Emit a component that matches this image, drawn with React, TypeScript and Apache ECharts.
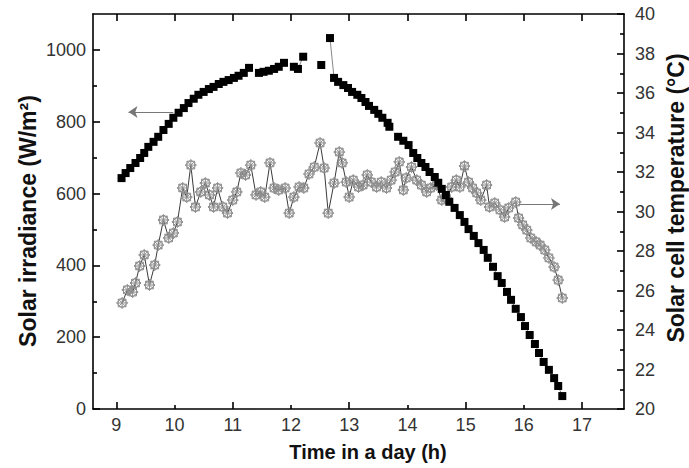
import React, { useEffect, useRef } from "react";
import * as echarts from "echarts";

// Axis tick values
const xTickLabels = [9, 10, 11, 12, 13, 14, 15, 16, 17];
const xMajorBottomTicks = [9, 11, 13, 15, 17];
const xMinorBottomTicks = [10, 12, 14, 16];
const yLeftLabels = [0, 200, 400, 600, 800, 1000];
const yLeftMinor = [100, 300, 500, 700, 900];
const yRightLabels = [20, 22, 24, 26, 28, 30, 32, 34, 36, 38, 40];
const yRightMinor = [21, 23, 25, 27, 29, 31, 33, 35, 37, 39];

// Solar irradiance (W/m2) vs time (h)
const irradiance: [number, number][] = [
  [9.09, 643], [9.16, 657], [9.24, 671], [9.33, 685], [9.41, 699], [9.48, 713], [9.55, 730],
  [9.64, 744], [9.72, 758], [9.81, 777], [9.9, 794], [9.98, 811], [10.07, 825], [10.16, 838],
  [10.24, 852], [10.33, 864], [10.41, 875], [10.5, 883], [10.59, 891], [10.67, 897], [10.76, 905],
  [10.84, 911], [10.93, 916], [11.02, 922], [11.1, 928], [11.19, 936], [11.28, 950],
  [11.45, 936], [11.53, 939], [11.62, 942], [11.71, 947], [11.79, 953], [11.88, 964],
  [12.05, 953], [12.12, 947], [12.21, 981],
  [12.52, 958],
  [12.67, 1033], [12.74, 922], [12.81, 911], [12.9, 902], [12.98, 894], [13.05, 883], [13.14, 875],
  [13.21, 866], [13.28, 855], [13.34, 844], [13.43, 833], [13.5, 822], [13.57, 811], [13.66, 797],
  [13.69, 786],
  [13.84, 758], [13.93, 747], [14.02, 735], [14.1, 713], [14.17, 699], [14.24, 685], [14.31, 674],
  [14.38, 660], [14.47, 646], [14.53, 630], [14.59, 613], [14.66, 596], [14.72, 577], [14.81, 560],
  [14.9, 540], [14.98, 521], [15.05, 501], [15.14, 482], [15.22, 462], [15.31, 443], [15.38, 421],
  [15.47, 396], [15.55, 370], [15.62, 351], [15.71, 326], [15.78, 304], [15.86, 279], [15.95, 256],
  [16.02, 231], [16.1, 206], [16.19, 181], [16.26, 156], [16.34, 131], [16.43, 109], [16.52, 86],
  [16.59, 64], [16.66, 36],
];
// Times after which the thin connecting line of the irradiance series is interrupted
const irradianceLineBreaks = [11.28, 11.88, 12.21, 12.52, 13.69];

// Solar cell temperature (°C) vs time (h)
const temperature: [number, number][] = [
  [9.1, 25.37], [9.19, 26.03], [9.28, 25.92], [9.33, 26.38], [9.4, 27.24], [9.48, 27.8],
  [9.57, 26.28], [9.66, 27.29], [9.72, 28.3], [9.81, 29.57], [9.9, 28.66], [9.98, 28.91],
  [10.05, 29.47], [10.14, 31.19], [10.21, 30.73], [10.28, 32.35], [10.36, 30.23], [10.45, 30.99],
  [10.53, 31.44], [10.6, 30.84], [10.67, 30.23], [10.74, 31.19], [10.83, 30.23], [10.91, 29.92],
  [11.0, 30.58], [11.07, 30.99], [11.14, 31.95], [11.22, 31.85], [11.31, 32.35], [11.4, 30.84],
  [11.48, 30.99], [11.55, 30.73], [11.64, 32.46], [11.71, 31.19], [11.79, 31.09], [11.9, 31.19],
  [11.97, 29.92], [12.05, 30.73], [12.14, 31.24], [12.22, 31.19], [12.31, 31.9], [12.4, 32.25],
  [12.5, 33.47], [12.57, 32.2], [12.64, 29.92], [12.74, 31.44], [12.83, 33.01], [12.88, 32.46],
  [12.95, 31.49], [13.0, 30.73], [13.07, 31.59], [13.16, 31.24], [13.24, 31.34], [13.31, 31.85],
  [13.38, 31.49], [13.47, 31.24], [13.55, 31.49], [13.64, 31.19], [13.72, 31.59], [13.79, 32.0],
  [13.86, 32.51], [13.93, 31.09], [13.98, 31.7], [14.07, 32.25], [14.16, 31.59], [14.24, 31.34],
  [14.33, 30.99], [14.4, 31.19], [14.5, 31.34], [14.59, 30.58], [14.67, 30.68], [14.76, 31.24],
  [14.84, 31.59], [14.9, 31.24], [14.98, 32.3], [15.05, 31.49], [15.12, 31.19], [15.19, 30.94],
  [15.26, 30.58], [15.36, 31.34], [15.41, 30.23], [15.5, 30.43], [15.59, 30.08], [15.67, 29.72],
  [15.74, 30.18], [15.86, 30.48], [15.91, 29.67], [15.98, 29.32], [16.05, 29.06], [16.12, 28.66],
  [16.21, 28.46], [16.28, 28.3], [16.36, 28.05], [16.43, 27.65], [16.52, 27.19], [16.59, 26.53],
  [16.66, 25.62],
];

// Arrow annotations: [from, to] in data coordinates
const irradianceArrow: [[number, number], [number, number]] = [[9.98, 827], [9.21, 827]];
const temperatureArrow: [[number, number], [number, number]] = [[15.93, 30.38], [16.62, 30.38]];

const FONT = "'Liberation Sans', Arial, Helvetica, sans-serif";
const crossSymbol =
  "path://M3,3L17,3L17,17L3,17Z M10,0L20,10L10,20L0,10Z M3,3L17,17 M17,3L3,17 M10,0L10,20 M0,10L20,10";

export default function App() {
  const ref = useRef<HTMLDivElement>(null);

  useEffect(() => {
    if (!ref.current) return;
    const chart = echarts.init(ref.current, undefined, { renderer: "svg" });

    const irrLine: any[] = [];
    irradiance.forEach((p) => {
      irrLine.push(p);
      if (irradianceLineBreaks.includes(p[0])) irrLine.push([p[0], "-"]);
    });

    const xMin = 8.6;
    const xMax = 17.72;
    const axisColor = "#000";
    const labelColor = "#333";
    const plain = (v: number) => String(v);

    const baseX = {
      type: "value",
      min: xMin,
      max: xMax,
      splitLine: { show: false },
      gridIndex: 0,
    };
    const baseLeft = {
      type: "value",
      min: 0,
      max: 1100,
      position: "left",
      splitLine: { show: false },
    };
    const baseRight = {
      type: "value",
      min: 20,
      max: 40,
      position: "right",
      splitLine: { show: false },
    };

    chart.setOption({
      animation: false,
      backgroundColor: "#fff",
      grid: { left: 93, right: 65, top: 14, bottom: 59, containLabel: false },
      xAxis: [
        {
          ...baseX,
          position: "bottom",
          axisLine: { show: true, onZero: false, lineStyle: { color: axisColor, width: 1.6 } },
          axisTick: {
            show: true,
            inside: true,
            length: 7,
            customValues: xMajorBottomTicks,
            lineStyle: { color: axisColor, width: 1.6 },
          },
          axisLabel: {
            show: true,
            customValues: xTickLabels,
            formatter: plain,
            fontSize: 18,
            fontFamily: FONT,
            color: labelColor,
            margin: 7,
          },
        },
        {
          ...baseX,
          position: "bottom",
          axisLine: { show: false, onZero: false },
          axisTick: {
            show: true,
            inside: true,
            length: 4,
            customValues: xMinorBottomTicks,
            lineStyle: { color: axisColor, width: 1.6 },
          },
          axisLabel: { show: false },
        },
        {
          ...baseX,
          position: "top",
          axisLine: { show: true, onZero: false, lineStyle: { color: axisColor, width: 1.6 } },
          axisTick: {
            show: true,
            inside: true,
            length: 7,
            customValues: xTickLabels,
            lineStyle: { color: axisColor, width: 1.6 },
          },
          axisLabel: { show: false },
        },
      ],
      yAxis: [
        {
          ...baseLeft,
          axisLine: { show: true, onZero: false, lineStyle: { color: axisColor, width: 1.6 } },
          axisTick: {
            show: true,
            inside: true,
            length: 7,
            customValues: yLeftLabels,
            lineStyle: { color: axisColor, width: 1.6 },
          },
          axisLabel: {
            show: true,
            customValues: yLeftLabels,
            formatter: plain,
            fontSize: 18,
            fontFamily: FONT,
            color: labelColor,
            margin: 7,
          },
        },
        {
          ...baseRight,
          axisLine: { show: true, onZero: false, lineStyle: { color: axisColor, width: 1.6 } },
          axisTick: {
            show: true,
            inside: true,
            length: 7,
            customValues: yRightLabels,
            lineStyle: { color: axisColor, width: 1.6 },
          },
          axisLabel: {
            show: true,
            customValues: yRightLabels,
            formatter: plain,
            fontSize: 18,
            fontFamily: FONT,
            color: labelColor,
            margin: 11,
          },
        },
        {
          ...baseLeft,
          axisLine: { show: false, onZero: false },
          axisTick: {
            show: true,
            inside: true,
            length: 4,
            customValues: yLeftMinor,
            lineStyle: { color: axisColor, width: 1.6 },
          },
          axisLabel: { show: false },
        },
        {
          ...baseRight,
          axisLine: { show: false, onZero: false },
          axisTick: {
            show: true,
            inside: true,
            length: 4,
            customValues: yRightMinor,
            lineStyle: { color: axisColor, width: 1.6 },
          },
          axisLabel: { show: false },
        },
      ],
      graphic: [
        {
          type: "text",
          x: 28,
          y: 221,
          rotation: Math.PI / 2,
          style: {
            text: "Solar irradiance (W/m²)",
            fontSize: 23,
            fontWeight: "bold",
            fontFamily: FONT,
            fill: "#111",
            align: "center",
            verticalAlign: "middle",
          },
        },
        {
          type: "text",
          x: 676,
          y: 198,
          rotation: Math.PI / 2,
          style: {
            text: "Solar cell temperature (°C)",
            fontSize: 23,
            fontWeight: "bold",
            fontFamily: FONT,
            fill: "#111",
            align: "center",
            verticalAlign: "middle",
          },
        },
        {
          type: "text",
          x: 368,
          y: 452,
          style: {
            text: "Time in a day (h)",
            fontSize: 20,
            fontWeight: "bold",
            fontFamily: FONT,
            fill: "#111",
            align: "center",
            verticalAlign: "middle",
          },
        },
      ],
      series: [
        {
          name: "Solar cell temperature",
          type: "line",
          xAxisIndex: 0,
          yAxisIndex: 1,
          data: temperature,
          symbol: crossSymbol,
          symbolSize: 11,
          showAllSymbol: true,
          lineStyle: { color: "#3a3a3a", width: 1 },
          itemStyle: { color: "rgba(255,255,255,0)", borderColor: "#8e8e8e", borderWidth: 1 },
          z: 2,
          markLine: {
            silent: true,
            symbol: ["none", "arrow"],
            symbolSize: 9,
            label: { show: false },
            lineStyle: { color: "#777", width: 1, type: "solid" },
            data: [[{ coord: temperatureArrow[0] }, { coord: temperatureArrow[1] }]],
          },
        },
        {
          name: "Solar irradiance",
          type: "line",
          xAxisIndex: 0,
          yAxisIndex: 0,
          data: irrLine,
          connectNulls: false,
          symbol: "rect",
          symbolSize: 8,
          showAllSymbol: true,
          lineStyle: { color: "#888", width: 1 },
          itemStyle: { color: "#000" },
          z: 3,
          markLine: {
            silent: true,
            symbol: ["none", "arrow"],
            symbolSize: 9,
            label: { show: false },
            lineStyle: { color: "#777", width: 1, type: "solid" },
            data: [[{ coord: irradianceArrow[0] }, { coord: irradianceArrow[1] }]],
          },
        },
      ],
    });

    return () => chart.dispose();
  }, []);

  return (
    <div
      ref={ref}
      style={{ position: "absolute", left: 0, top: 0, width: 689, height: 468, background: "#fff" }}
    />
  );
}
